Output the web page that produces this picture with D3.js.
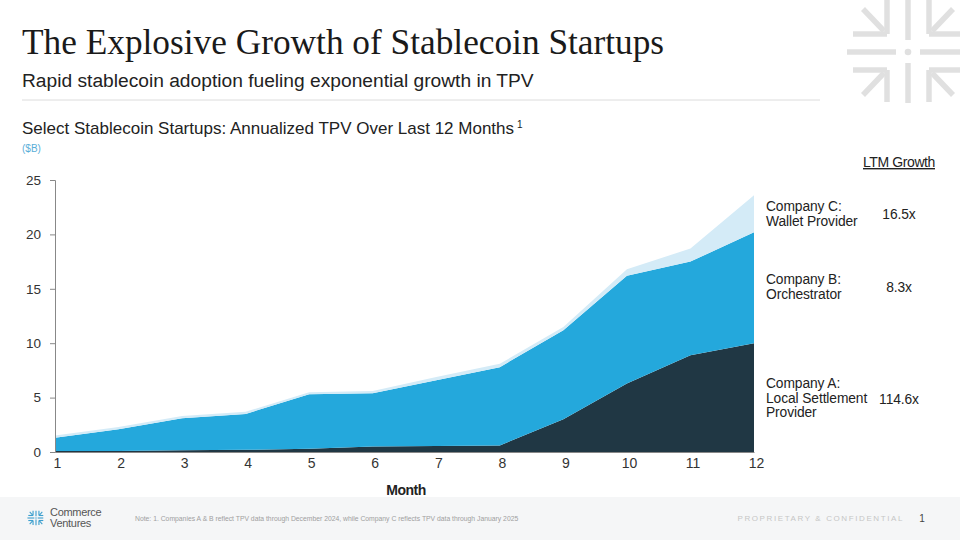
<!DOCTYPE html>
<html>
<head>
<meta charset="utf-8">
<script src="https://cdn.jsdelivr.net/npm/d3@7"></script>
<style>
  body { margin: 0; background: #fff; }
  svg { display: block; font-family: "Liberation Sans", Arial, sans-serif; }
</style>
</head>
<body>
<div id="chart"></div>
<script>
// months on the x axis
const months = [1, 2, 3, 4, 5, 6, 7, 8, 9, 10, 11, 12];
// annualized TPV ($B) per company
const companyA = [0.09, 0.1, 0.15, 0.2, 0.3, 0.5, 0.55, 0.6, 3.0, 6.3, 8.9, 10.0];
const companyB = [1.23, 2.0, 2.95, 3.3, 5.0, 4.9, 6.05, 7.2, 8.2, 9.9, 8.6, 10.2];
const companyC = [0.2, 0.2, 0.2, 0.2, 0.2, 0.2, 0.3, 0.3, 0.3, 0.6, 1.2, 3.4];
const seriesKeys = ['A', 'B', 'C'];
const yTicks = [0, 5, 10, 15, 20, 25];
const labels = [
  { key: 'C', lines: ['Company C:', 'Wallet Provider'], growth: '16.5x' },
  { key: 'B', lines: ['Company B:', 'Orchestrator'], growth: '8.3x' },
  { key: 'A', lines: ['Company A:', 'Local Settlement', 'Provider'], growth: '114.6x' }
];

const width = 960, height = 540;
const colors = { A: '#203744', B: '#24a8dc', C: '#d4ebf7' };

const data = months.map((m, i) => ({ month: m, A: companyA[i], B: companyB[i], C: companyC[i] }));

const svg = d3.select('#chart').append('svg')
  .attr('width', width)
  .attr('height', height);

// header
svg.append('text')
  .attr('x', 22).attr('y', 54)
  .attr('font-family', '"Liberation Serif", "Times New Roman", serif')
  .attr('font-size', 35.3)
  .attr('fill', '#1a1a1a')
  .text('The Explosive Growth of Stablecoin Startups');

svg.append('text')
  .attr('x', 22).attr('y', 87)
  .attr('font-size', 19.2)
  .attr('fill', '#222')
  .text('Rapid stablecoin adoption fueling exponential growth in TPV');

svg.append('line')
  .attr('x1', 22).attr('x2', 820)
  .attr('y1', 100).attr('y2', 100)
  .attr('stroke', '#dcdcdc');

const heading = svg.append('text')
  .attr('x', 22).attr('y', 134)
  .attr('font-size', 17)
  .attr('fill', '#222')
  .text('Select Stablecoin Startups: Annualized TPV Over Last 12 Months');
heading.append('tspan')
  .attr('dx', 3).attr('dy', -6)
  .attr('font-size', 10)
  .text('1');

svg.append('text')
  .attr('x', 22).attr('y', 152)
  .attr('font-size', 10)
  .attr('fill', '#5aaed8')
  .text('($B)');

// top right mark
function mark(g, color, sw) {
  const segs = [
    [0, -52, 0, -12], [0, 11, 0, 51], [-61, 0, -12, 0], [12, 0, 52, 0],
    [-21, -52, -21, -18], [-55, -18, -21, -18], [-45, -43, -24, -21],
    [21, -52, 21, -18], [21, -18, 52, -18], [45, -43, 24, -21],
    [-21, 18, -21, 50], [-55, 18, -21, 18], [-45, 43, -24, 21],
    [21, 18, 21, 50], [21, 18, 52, 18], [45, 43, 24, 21]
  ];
  g.selectAll('line').data(segs).join('line')
    .attr('x1', d => d[0]).attr('y1', d => d[1])
    .attr('x2', d => d[2]).attr('y2', d => d[3])
    .attr('stroke', color)
    .attr('stroke-width', sw);
  g.append('circle').attr('r', sw * 0.6).attr('fill', color);
}
mark(svg.append('g').attr('transform', 'translate(908,52)'), '#e0e0e0', 5.5);

// chart
const x = d3.scaleLinear().domain([1, 12]).range([55, 754]);
const y = d3.scaleLinear().domain([0, 25]).range([452, 180]);

const stacked = d3.stack().keys(seriesKeys)(data);

const area = d3.area()
  .x(d => x(d.data.month))
  .y0(d => y(d[0]))
  .y1(d => y(d[1]));

svg.append('g')
  .selectAll('path')
  .data(stacked)
  .join('path')
  .attr('d', area)
  .attr('fill', d => colors[d.key]);

const yAxis = svg.append('g')
  .attr('transform', 'translate(55,0)')
  .call(d3.axisLeft(y).tickValues(yTicks).tickSize(5).tickPadding(9));
yAxis.select('.domain').attr('stroke', '#888');
yAxis.selectAll('.tick line').attr('stroke', '#888');
yAxis.selectAll('.tick text')
  .attr('font-size', 13.5)
  .attr('fill', '#333')
  .attr('font-family', '"Liberation Sans", Arial, sans-serif');

const xAxis = svg.append('g')
  .attr('transform', 'translate(0,452)')
  .call(d3.axisBottom(x).tickValues(months).tickSize(0).tickPadding(6).tickFormat(d3.format('d')));
xAxis.select('.domain').attr('stroke', '#888');
xAxis.selectAll('.tick text')
  .attr('font-size', 14)
  .attr('fill', '#333')
  .attr('dx', 2)
  .attr('font-family', '"Liberation Sans", Arial, sans-serif');

svg.append('text')
  .attr('x', 406).attr('y', 495)
  .attr('text-anchor', 'middle')
  .attr('font-size', 14)
  .attr('font-weight', 'bold')
  .attr('fill', '#222')
  .attr('letter-spacing', -0.5)
  .text('Month');

// right side labels
svg.append('text')
  .attr('x', 899).attr('y', 167)
  .attr('text-anchor', 'middle')
  .attr('font-size', 14)
  .attr('fill', '#222')
  .attr('text-decoration', 'underline')
  .attr('letter-spacing', -0.4)
  .text('LTM Growth');

const labelY = { C: 211, B: 284, A: 388 };
labels.forEach(l => {
  const t = svg.append('text')
    .attr('x', 766).attr('y', labelY[l.key])
    .attr('font-size', 13.8)
    .attr('fill', '#222')
    .attr('letter-spacing', -0.1);
  l.lines.forEach((s, i) => {
    t.append('tspan').attr('x', 766).attr('dy', i === 0 ? 0 : 14.5).text(s);
  });
  svg.append('text')
    .attr('x', 899)
    .attr('y', labelY[l.key] + (l.lines.length - 1) * 14.5 / 2 + 1)
    .attr('text-anchor', 'middle')
    .attr('font-size', 13.8)
    .attr('fill', '#222')
    .attr('letter-spacing', -0.1)
    .text(l.growth);
});

// footer
svg.append('rect')
  .attr('x', 0).attr('y', 497)
  .attr('width', width).attr('height', 43)
  .attr('fill', '#f5f6f7');

mark(svg.append('g').attr('transform', 'translate(36,518) scale(0.14)'), '#3d9fce', 8);

svg.append('text')
  .attr('x', 50).attr('y', 516)
  .attr('font-size', 11)
  .attr('fill', '#555')
  .attr('letter-spacing', -0.3)
  .text('Commerce');
svg.append('text')
  .attr('x', 50).attr('y', 527)
  .attr('font-size', 11)
  .attr('fill', '#555')
  .attr('letter-spacing', -0.3)
  .text('Ventures');

svg.append('text')
  .attr('x', 135).attr('y', 521)
  .attr('font-size', 6.8)
  .attr('fill', '#a0a0a0')
  .text('Note: 1. Companies A & B reflect TPV data through December 2024, while Company C reflects TPV data through January 2025');

svg.append('text')
  .attr('x', 904).attr('y', 521)
  .attr('text-anchor', 'end')
  .attr('font-size', 8)
  .attr('fill', '#c6c6c6')
  .attr('letter-spacing', 1.6)
  .text('PROPRIETARY & CONFIDENTIAL');

svg.append('text')
  .attr('x', 922).attr('y', 522)
  .attr('text-anchor', 'middle')
  .attr('font-size', 10)
  .attr('fill', '#444')
  .text('1');
</script>
</body>
</html>
